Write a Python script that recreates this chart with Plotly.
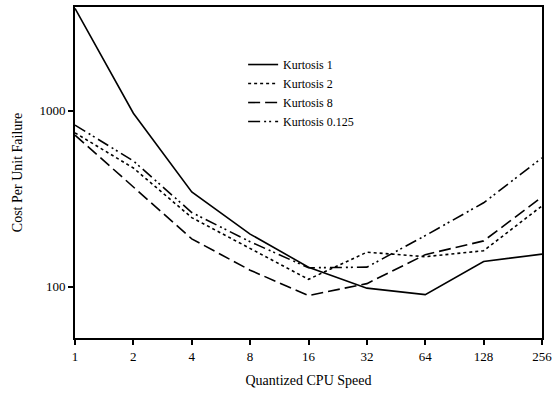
import numpy as np
import plotly.graph_objects as go

speed = [1, 2, 4, 8, 16, 32, 64, 128, 256]
k1 = [3830, 970, 346, 199, 129, 98, 90, 139, 153]
k2 = [750, 473, 247, 165, 110, 157, 148, 160, 288]
k8 = [728, 369, 187, 124, 89, 104, 152, 182, 324]
k0125 = [830, 519, 264, 180, 128, 129, 195, 300, 540]

xticks = [1, 2, 4, 8, 16, 32, 64, 128, 256]
xticklabels = ["1", "2", "4", "8", "16", "32", "64", "128", "256"]
yticks = [100, 1000]
yticklabels = ["100", "1000"]

fig = go.Figure()
series = [
    ("Kurtosis 1", k1, "solid"),
    ("Kurtosis 2", k2, "dot"),
    ("Kurtosis 8", k8, "12px,5px"),
    ("Kurtosis 0.125", k0125, "12px,4px,2px,3px,2px,4px"),
]
for name, ys, dash in series:
    fig.add_trace(go.Scatter(x=speed, y=ys, mode="lines", name=name,
                             line=dict(color="black", width=1.6, dash=dash)))

fam = "Liberation Serif"
fig.update_layout(
    width=557, height=396,
    margin=dict(l=75, r=10, t=5, b=58),
    paper_bgcolor="white", plot_bgcolor="white",
    font=dict(family=fam, size=13, color="black"),
    showlegend=True,
    legend=dict(x=0.36, y=0.87, xanchor="left", yanchor="top",
                bgcolor="rgba(0,0,0,0)", borderwidth=0,
                font=dict(family=fam, size=12),
                tracegroupgap=0, itemwidth=30),
)
fig.update_xaxes(type="log", range=[0, np.log10(256)],
                 tickvals=xticks, ticktext=xticklabels,
                 tickfont=dict(family=fam, size=13),
                 ticklabeloverflow="allow",
                 showgrid=False, zeroline=False,
                 showline=True, linecolor="black", linewidth=2, mirror=True,
                 ticks="outside", ticklen=5, tickwidth=2, tickcolor="black",
                 title=dict(text="Quantized CPU Speed", standoff=13,
                            font=dict(family=fam, size=14)))
fig.update_yaxes(type="log", range=[np.log10(51), np.log10(3900)],
                 tickvals=yticks, ticktext=yticklabels,
                 tickfont=dict(family=fam, size=13),
                 showgrid=False, zeroline=False,
                 showline=True, linecolor="black", linewidth=2, mirror=True,
                 ticks="outside", ticklen=5, tickwidth=2, tickcolor="black",
                 title=dict(text="Cost Per Unit Failure", standoff=14,
                            font=dict(family=fam, size=14)))

fig.write_html("out.html", config={"displayModeBar": False},
               post_script="document.body.style.margin='0';document.body.style.padding='0';")
